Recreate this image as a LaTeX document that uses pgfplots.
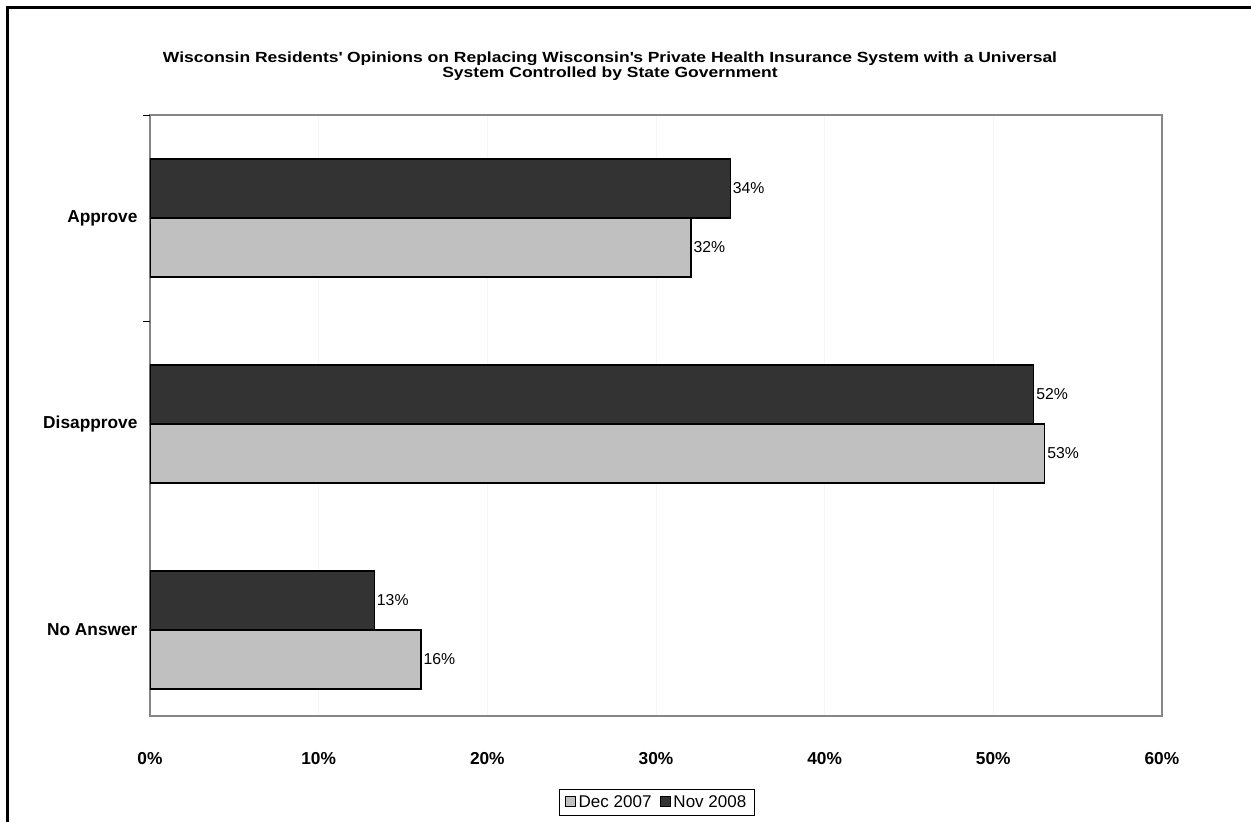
\documentclass[border=0pt]{standalone}
\usepackage{fontspec}
\setmainfont{Liberation Sans}
\newfontfamily\titlefont[FakeStretch=1.19]{Liberation Sans}
\usepackage{pgfplots}
\pgfplotsset{compat=1.18}
\definecolor{darkbar}{HTML}{333333}
\definecolor{lightbar}{HTML}{C0C0C0}
\definecolor{axisgray}{HTML}{868686}
\begin{document}
\begin{tikzpicture}
\useasboundingbox (0pt,0pt) rectangle (1251pt,-822pt);
\draw[line width=2.7pt] (1260pt,-7.4pt) -- (7.4pt,-7.4pt) -- (7.4pt,-830pt);
\node[anchor=north, align=center, inner sep=0pt, font=\titlefont\fontsize{14.7}{12}\selectfont\bfseries] at (610pt,-51.5pt) {Wisconsin Residents\textquotesingle{} Opinions on Replacing Wisconsin\textquotesingle{}s Private Health Insurance System with a Universal\\System Controlled by State Government};
\begin{axis}[
  at={(150pt,-716pt)}, anchor=south west,
  scale only axis, width=1012pt, height=601pt,
  xbar=0pt, bar width=0.286,
  xmin=0, xmax=60, ymin=-0.4175, ymax=2.5,
  xtick={0,10,20,30,40,50,60},
  xticklabels={0\%,10\%,20\%,30\%,40\%,50\%,60\%},
  ytick={0,1,2},
  yticklabels={No Answer,Disapprove,Approve},
  major tick length=0pt,
  extra y ticks={1.5,2.5},
  extra y tick labels={},
  extra y tick style={major tick length=7pt, tick pos=left, tick align=outside, tick style={black, line width=1pt}},
  axis line style={axisgray, line width=1.5pt},
  xmajorgrids, major grid style={gray!7, line width=0.6pt},
  ticklabel style={font=\fontsize{17.3}{20}\selectfont\bfseries},
  xticklabel style={yshift=-33pt},
  yticklabel style={xshift=-9pt},
  point meta=explicit symbolic,
  nodes near coords,
  every node near coord/.append style={font=\fontsize{15.8}{19}\selectfont, anchor=west, inner sep=2pt, black},
  legend style={at={(0.501,-0.143)}, anchor=center, draw=black, line width=0.8pt, font=\fontsize{17}{20}\selectfont, inner xsep=5.5pt, inner ysep=3.8pt,
    nodes={inner sep=2.5pt},
    /tikz/every even column/.append style={column sep=6pt}},
  legend columns=2,
  legend image code/.code={\draw[#1,draw=black,line width=1pt] (0pt,-5pt) rectangle (10pt,5pt);},
]
\addplot[fill=lightbar, draw=black, line width=1.3pt] coordinates {(16.06,0) [16\%] (53.05,1) [53\%] (32.07,2) [32\%]};
\addplot[fill=darkbar, draw=black, line width=1.3pt] coordinates {(13.3,0) [13\%] (52.4,1) [52\%] (34.4,2) [34\%]};
\legend{Dec 2007, Nov 2008}
\end{axis}
\end{tikzpicture}
\end{document}
